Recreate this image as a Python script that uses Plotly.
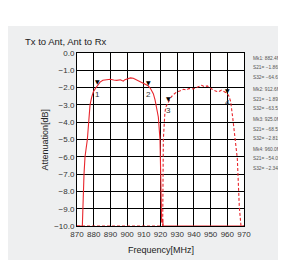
import plotly.graph_objects as go

# ---- data ----
freq_s21 = [870, 873.2, 874.2, 874.8, 876.2, 876.8, 877.8, 878.8, 879.8, 881.0, 882.4, 883.8,
            885.5, 887.8, 890.0, 892.0, 893.8, 896.0, 897.7, 898.7, 900.5, 902.0, 903.7,
            905.5, 907.7, 910.0, 912.6, 914.0, 915.7, 916.7, 918.0, 918.7, 919.7, 920.2,
            920.7, 921.3, 921.6, 970]
s21 = [-10, -10, -7.0, -6.0, -5.0, -4.0, -3.0, -2.55, -2.24, -2.05, -1.869, -1.68,
       -1.58, -1.54, -1.52, -1.56, -1.58, -1.55, -1.63, -1.54, -1.50, -1.44, -1.46,
       -1.55, -1.62, -1.78, -1.895, -2.05, -2.35, -2.7, -3.3, -3.7, -5.0, -7.0,
       -9.8, -9.6, -10, -10]

freq_s32 = [870, 921.3, 921.7, 922.1, 922.6, 923.1, 924.0, 925.0, 926.0, 927.5, 929.7,
            931.5, 933.7, 935.5, 937.0, 939.7, 942.0, 944.7, 946.5, 948.0, 949.6, 951.0,
            953.0, 954.6, 956.5, 958.5, 960.0, 961.0, 962.0, 963.2, 964.6, 966.0, 967.2,
            968.2, 970]
s32 = [-10, -10, -5.0, -4.0, -3.5, -3.14, -2.95, -2.815, -2.6, -2.42, -2.25,
       -2.2, -2.1, -2.14, -2.05, -2.08, -1.97, -1.87, -1.95, -1.9, -2.02, -2.1,
       -2.2, -2.25, -2.15, -2.25, -2.348, -2.5, -2.8, -3.7, -5.0, -6.1, -8.9,
       -10, -10]

marker_ids = ["1", "2", "3", "4"]
marker_freq = [882.4, 912.6, 925.0, 960.0]
marker_s21 = [-1.869, -1.895, -68.59, -54.05]
marker_s32 = [-64.67, -63.53, -2.815, -2.348]
marker_on = ["S21", "S21", "S32", "S32"]

x_ticks = list(range(870, 971, 10))
y_ticks = [0, -1, -2, -3, -4, -5, -6, -7, -8, -9, -10]

title_text = "Tx to Ant, Ant to Rx"
x_title = "Frequency[MHz]"
y_title = "Attenuation[dB]"

# ---- layout constants (page has an 8px body margin) ----
OFF = 8
W, H = 286 - OFF, 266 - OFF
PLOT_X0, PLOT_X1, PLOT_Y0, PLOT_Y1 = 77, 244, 53, 226  # screen pixels
L, R = PLOT_X0 - OFF, W - (PLOT_X1 - OFF)
T, B = PLOT_Y0 - OFF, H - (PLOT_Y1 - OFF)
PW, PH = W - L - R, H - T - B
RED = "#e8262d"
FONT = "Liberation Sans, Arial, sans-serif"


def px(screen_x):
    return (screen_x - PLOT_X0) / PW


def py(screen_y):
    return (PLOT_Y1 - screen_y) / PH


def num(v, nd):
    return f"{v:.{nd}f}".replace("-", "\u2212")


fig = go.Figure()
fig.add_trace(go.Scatter(x=freq_s21, y=s21, mode="lines",
                         line=dict(color=RED, width=1.1),
                         showlegend=False, hoverinfo="skip"))
fig.add_trace(go.Scatter(x=freq_s32, y=s32, mode="lines",
                         line=dict(color=RED, width=1.1, dash="3px,2px"),
                         showlegend=False, hoverinfo="skip"))

shapes = [
    dict(type="rect", xref="paper", yref="paper", x0=px(8), x1=px(300),
         y0=py(260), y1=py(26), fillcolor="#eeeff0", line=dict(width=0), layer="below"),
    dict(type="rect", xref="paper", yref="paper", x0=0, x1=1, y0=0, y1=1,
         fillcolor="white", line=dict(width=0), layer="below"),
]

annotations = []
# markers
for mid, f, a, b, on in zip(marker_ids, marker_freq, marker_s21, marker_s32, marker_on):
    v = a if on == "S21" else b
    annotations.append(dict(x=f, y=v, xref="x", yref="y", text="▼", showarrow=False,
                            yanchor="middle", xanchor="center", yshift=3.5,
                            font=dict(size=6, color="black", family="DejaVu Sans")))
    annotations.append(dict(x=f, y=v, xref="x", yref="y", text=mid, showarrow=False,
                            yanchor="middle", xanchor="center", yshift=-9,
                            font=dict(size=8, color="#333", family=FONT)))

# marker readout text
block_tops = [58.3, 89.5, 119.5, 149.0]
line_gap = 9.5
for i, (f, a, b) in enumerate(zip(marker_freq, marker_s21, marker_s32)):
    lines = [f"Mk{i+1}: {f:.1f}MHz",
             f"S21= {num(a, 3 if abs(a) < 10 else 2)}dB",
             f"S32= {num(b, 3 if abs(b) < 10 else 2)}dB"]
    for j, t in enumerate(lines):
        annotations.append(dict(x=px(252), y=py(block_tops[i] + j * line_gap),
                                xref="paper", yref="paper", text=t, showarrow=False,
                                xanchor="left", yanchor="middle", borderpad=0,
                                font=dict(size=4.8, color="#555", family=FONT)))

annotations.append(dict(x=px(23), y=py(41.5), xref="paper", yref="paper", text=title_text,
                        showarrow=False, xanchor="left", yanchor="middle",
                        font=dict(size=9.5, color="#222", family=FONT)))
annotations.append(dict(x=0.5, y=py(250), xref="paper", yref="paper", text=x_title,
                        showarrow=False, xanchor="center", yanchor="middle",
                        font=dict(size=9, color="#222", family=FONT)))
annotations.append(dict(x=px(44), y=0.5, xref="paper", yref="paper", text=y_title,
                        showarrow=False, xanchor="center", yanchor="middle", textangle=-90,
                        font=dict(size=9, color="#222", family=FONT)))

fig.update_layout(
    width=W, height=H,
    margin=dict(l=L, r=R, t=T, b=B, pad=0),
    paper_bgcolor="white",
    plot_bgcolor="rgba(0,0,0,0)",
    shapes=shapes,
    annotations=annotations,
    xaxis=dict(range=[870, 970], tickvals=x_ticks, ticktext=[str(t) for t in x_ticks],
               showgrid=True, gridcolor="black", gridwidth=1, zeroline=False,
               showline=True, linecolor="black", linewidth=1, mirror=True,
               ticks="", ticklen=0,
               tickfont=dict(size=8, color="#333", family=FONT), fixedrange=True),
    yaxis=dict(range=[-10, 0], tickvals=y_ticks, tickformat=".1f",
               showgrid=True, gridcolor="black", gridwidth=1, zeroline=False,
               showline=True, linecolor="black", linewidth=1, mirror=True,
               ticks="", ticklen=0,
               tickfont=dict(size=8, color="#333", family=FONT), fixedrange=True),
)

fig.write_html("out.html")
